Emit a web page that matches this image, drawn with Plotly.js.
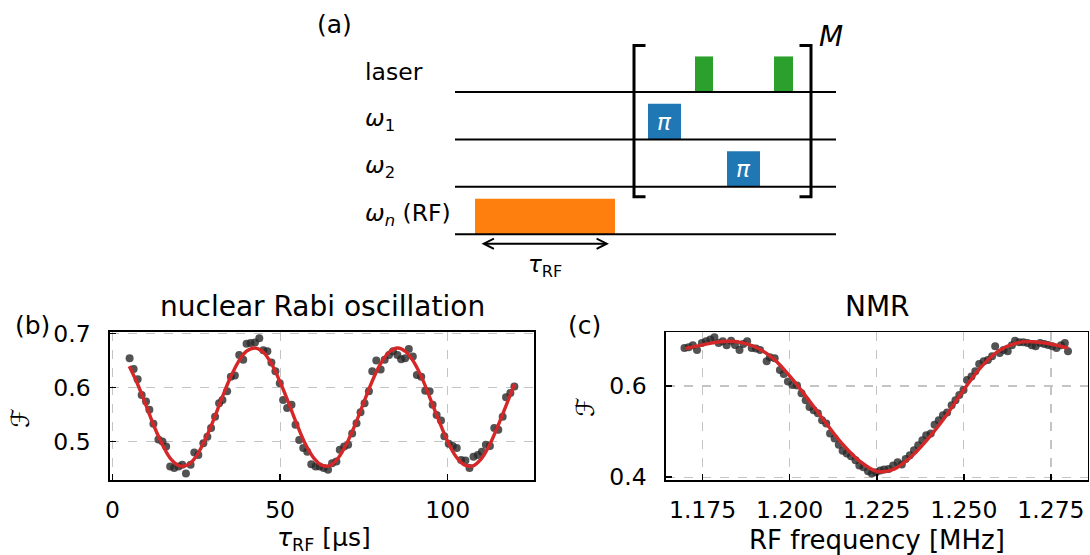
<!DOCTYPE html>
<html><head><meta charset="utf-8">
<script src="https://cdn.plot.ly/plotly-3.0.1.min.js"></script>
<style>html,body{margin:0;padding:0;background:#fff}#chart{width:1090px;height:555px}</style>
</head><body><div id="chart"></div>
<script>
// ---------- (b) nuclear Rabi oscillation ----------
const tauData = [5.1,6.3,7.5,8.7,10.0,11.0,12.2,13.7,14.9,16.0,17.2,18.4,19.7,20.8,21.9,23.3,24.4,25.6,27.1,28.3,
 29.4,30.6,31.8,32.8,34.2,35.3,36.5,37.8,39.0,40.0,41.2,42.5,43.8,45.0,46.2,47.4,48.6,49.9,50.9,52.1,
 53.4,54.6,55.7,56.9,58.1,59.3,60.6,61.8,63.0,64.3,65.5,66.8,67.8,69.1,70.3,71.5,72.8,74.0,75.2,76.5,
 77.5,78.7,80.0,81.2,82.5,83.7,85.0,86.1,87.3,88.4,89.6,90.8,92.1,93.3,94.6,95.5,96.7,98.0,99.0,100.3,
 101.5,102.7,104.0,105.3,106.5,107.7,109.0,110.2,111.4,112.6,113.9,115.1,116.4,117.4,118.7,119.9];
const fidRabi = [0.654,0.634,0.615,0.586,0.574,0.559,0.533,0.504,0.500,0.491,0.454,0.451,0.454,0.457,0.441,0.457,0.480,0.475,0.497,0.509,
 0.525,0.546,0.571,0.577,0.593,0.620,0.622,0.660,0.651,0.681,0.682,0.683,0.691,0.669,0.667,0.646,0.630,0.608,0.577,0.562,
 0.568,0.531,0.503,0.488,0.481,0.458,0.454,0.454,0.451,0.448,0.460,0.463,0.485,0.491,0.494,0.515,0.534,0.554,0.571,0.593,
 0.630,0.650,0.633,0.651,0.660,0.667,0.660,0.652,0.654,0.671,0.657,0.623,0.620,0.594,0.593,0.568,0.549,0.539,0.510,0.496,
 0.492,0.488,0.466,0.465,0.451,0.472,0.475,0.481,0.494,0.492,0.525,0.522,0.546,0.582,0.590,0.602];
const tauFit = [5,7.5,10,12.5,15,17.5,20,22.5,25,27.5,30,32.5,35,37.5,40,42.5,45,47.5,50,52.5,55,57.5,60,62.5,
 65,67.5,70,72.5,75,77.5,80,82.5,85,87.5,90,92.5,95,97.5,100,102.5,105,107.5,110,112.5,115,117.5,120];
const fitRabi = [0.639,0.606,0.567,0.527,0.493,0.467,0.455,0.457,0.473,0.502,0.538,0.578,0.616,0.647,0.667,0.673,
 0.665,0.643,0.610,0.572,0.532,0.496,0.470,0.456,0.456,0.471,0.498,0.533,0.573,0.612,0.644,0.665,0.673,0.666,
 0.646,0.615,0.576,0.537,0.500,0.472,0.457,0.455,0.468,0.494,0.529,0.568,0.607];
const rabiTicks = [0,50,100];
const rabiYTicks = [0.5,0.6,0.7];

// ---------- (c) NMR ----------
const freqData = [1.1698,1.1710,1.1722,1.1734,1.1748,1.1760,1.1772,1.1784,1.1796,1.1808,1.1819,1.1832,1.1843,1.1856,1.1867,1.1878,
 1.1891,1.1903,1.1915,1.1934,1.1943,1.1957,1.1972,1.1983,1.1995,1.2008,1.2021,1.2034,1.2046,1.2057,1.2069,1.2081,
 1.2093,1.2105,1.2116,1.2129,1.2141,1.2152,1.2164,1.2176,1.2189,1.2200,1.2212,1.2225,1.2236,1.2248,1.2260,1.2271,
 1.2284,1.2297,1.2310,1.2322,1.2333,1.2345,1.2357,1.2369,1.2381,1.2392,1.2405,1.2416,1.2428,1.2440,1.2452,1.2465,
 1.2476,1.2487,1.2499,1.2509,1.2522,1.2533,1.2544,1.2557,1.2569,1.2581,1.2590,1.2603,1.2614,1.2626,1.2638,1.2647,
 1.2659,1.2671,1.2683,1.2695,1.2706,1.2719,1.2731,1.2742,1.2754,1.2766,1.2779,1.2790,1.2799];
const fidNmr = [0.683,0.685,0.689,0.679,0.694,0.698,0.702,0.707,0.694,0.698,0.689,0.699,0.690,0.679,0.692,0.698,
 0.683,0.682,0.679,0.654,0.663,0.661,0.635,0.626,0.610,0.602,0.601,0.584,0.569,0.554,0.547,0.540,
 0.525,0.518,0.496,0.485,0.471,0.458,0.452,0.446,0.437,0.426,0.422,0.413,0.408,0.411,0.415,0.417,
 0.418,0.426,0.433,0.428,0.440,0.448,0.459,0.470,0.481,0.492,0.496,0.515,0.525,0.536,0.542,0.558,
 0.569,0.580,0.591,0.613,0.621,0.632,0.648,0.654,0.657,0.665,0.687,0.672,0.679,0.676,0.689,0.699,
 0.696,0.696,0.694,0.689,0.687,0.694,0.692,0.690,0.687,0.683,0.689,0.694,0.676];
const freqFit = [1.170,1.175,1.180,1.185,1.190,1.195,1.200,1.205,1.210,1.215,1.220,1.225,1.230,1.235,1.240,1.245,
 1.250,1.255,1.260,1.265,1.270,1.275,1.280];
const fitNmr = [0.682,0.690,0.697,0.697,0.686,0.662,0.622,0.574,0.523,0.474,0.436,0.413,0.418,0.446,0.487,0.536,
 0.592,0.642,0.677,0.694,0.697,0.692,0.683];
const nmrTicks = [1.175,1.200,1.225,1.250,1.275];
const nmrTickText = ['1.175','1.200','1.225','1.250','1.275'];
const nmrYTicks = [0.4,0.6];

// ---------- (a) pulse sequence ----------
const channelLabels = ['laser','<i>ω</i><sub>1</sub>','<i>ω</i><sub>2</sub>','<i>ω</i><sub><i>n</i></sub> (RF)'];
const channelRows = [0,1,2,3];
const sequenceLength = 38.1;
const pulseChannel = [3,1,0,2,0];
const pulseStart = [2.0,19.3,24.0,27.2,31.9];
const pulseEnd = [16.0,22.6,25.8,30.5,33.8];
const pulseKind = ['rf','mw','laser','mw','laser'];
const pulseText = ['','<i>π</i>','','<i>π</i>',''];
const blockStart = 17.9, blockEnd = 35.6;   // repeated block [ ... ]^M
const rfArrow = [2.5, 15.4];

// ---------- styles ----------
const FONT = 'DejaVu Sans, Liberation Sans, sans-serif';
const kindColor = {rf:'#ff7f0e', mw:'#1f77b4', laser:'#2ca02c'};
const pulseHeight = 0.75;
const W = 1090, H = 555;
const px = v => v / W, py = v => 1 - v / H;

const traces = [
  {x: tauData, y: fidRabi, type:'scatter', mode:'markers', xaxis:'x', yaxis:'y',
   marker:{size:8, color:'rgba(40,40,40,0.8)'}, hoverinfo:'skip'},
  {x: tauFit, y: fitRabi, type:'scatter', mode:'lines', xaxis:'x', yaxis:'y',
   line:{color:'#d62728', width:3.4, shape:'spline'}, hoverinfo:'skip'},
  {x: freqData, y: fidNmr, type:'scatter', mode:'markers', xaxis:'x2', yaxis:'y2',
   marker:{size:8, color:'rgba(40,40,40,0.8)'}, hoverinfo:'skip'},
  {x: freqFit, y: fitNmr, type:'scatter', mode:'lines', xaxis:'x2', yaxis:'y2',
   line:{color:'#d62728', width:3.4, shape:'spline'}, hoverinfo:'skip'}
];

const shapes = [];
const annotations = [];
// channel base lines
channelRows.forEach(r => shapes.push({type:'line', xref:'x3', yref:'y3', x0:0, x1:sequenceLength, y0:r, y1:r,
  line:{color:'black', width:2}}));
// pulses
pulseStart.forEach((t0,i) => {
  const r = pulseChannel[i];
  shapes.push({type:'rect', xref:'x3', yref:'y3', x0:t0, x1:pulseEnd[i], y0:r - pulseHeight, y1:r,
    fillcolor:kindColor[pulseKind[i]], line:{width:0}, layer:'below'});
  if (pulseText[i]) annotations.push({xref:'x3', yref:'y3', x:(t0+pulseEnd[i])/2, y:r - pulseHeight/2,
    text:pulseText[i], showarrow:false, xanchor:'center', yanchor:'middle',
    font:{family:FONT, size:23, color:'white'}});
});
// bracket
const bTop = -0.98, bBot = 2.21, serif = 1.15;
[[blockStart, 1],[blockEnd, -1]].forEach(([t,dir]) => {
  shapes.push({type:'path', xref:'x3', yref:'y3',
    path:`M${t+dir*serif},${bTop} L${t},${bTop} L${t},${bBot} L${t+dir*serif},${bBot}`,
    line:{color:'black', width:3}});
});
annotations.push({xref:'x3', yref:'y3', x:blockEnd+0.6, y:bTop-0.2, text:'<i>M</i>', showarrow:false,
  xanchor:'left', yanchor:'middle', font:{family:FONT, size:28, color:'black'}});
// channel labels
channelLabels.forEach((lab,i) => annotations.push({xref:'x3', yref:'y3', x:-9.2, y:channelRows[i]-0.42,
  text:lab, showarrow:false, xanchor:'left', yanchor:'middle', font:{family:FONT, size:23.5, color:'black'}}));
// tau_RF arrow
annotations.push({xref:'x3', yref:'y3', axref:'x3', ayref:'y3', x:rfArrow[1], y:3.2, ax:rfArrow[0], ay:3.2,
  text:'', showarrow:true, arrowside:'end+start', arrowhead:5, startarrowhead:5, arrowsize:1, startarrowsize:1,
  arrowwidth:2, arrowcolor:'black'});
annotations.push({xref:'x3', yref:'y3', x:(rfArrow[0]+rfArrow[1])/2, y:3.68, text:'<i>τ</i><sub>RF</sub>',
  showarrow:false, xanchor:'center', yanchor:'middle', font:{family:FONT, size:23, color:'black'}});

// panel labels, titles, axis titles
const paperText = (x,y,text,size,opts={}) => annotations.push(Object.assign({xref:'paper', yref:'paper',
  x:px(x), y:py(y), text, showarrow:false, xanchor:'center', yanchor:'middle',
  font:{family:FONT, size, color:'black'}}, opts));
paperText(334, 24, '(a)', 25);
paperText(32, 325, '(b)', 25);
paperText(584, 325, '(c)', 25);
paperText(322, 306, 'nuclear Rabi oscillation', 28);
paperText(877, 306, 'NMR', 28);
paperText(324, 539, '<i>τ</i><sub>RF</sub> [μs]', 25);
paperText(877, 540, 'RF frequency [MHz]', 26);
paperText(20, 418, 'ℱ', 25, {textangle:-90});
paperText(586, 407, 'ℱ', 25, {textangle:-90});

const axBase = {showline:true, mirror:true, linecolor:'black', linewidth:1.6, ticks:'inside', ticklen:6,
  tickwidth:1.6, tickcolor:'black', showgrid:true, gridcolor:'#c4c4c4', griddash:'dash', gridwidth:1.2,
  zeroline:false, tickfont:{family:FONT, size:23.5, color:'black'}, fixedrange:true};

const layout = {
  width:W, height:H, margin:{l:0, r:0, t:0, b:0}, paper_bgcolor:'white', plot_bgcolor:'rgba(0,0,0,0)',
  showlegend:false, font:{family:FONT},
  xaxis: Object.assign({}, axBase, {domain:[px(110), px(534)], range:[-0.75,125.75], tickvals:rabiTicks,
    anchor:'y', ticklabelstandoff:8}),
  yaxis: Object.assign({}, axBase, {domain:[py(480), py(332)], range:[0.429,0.7025], tickvals:rabiYTicks,
    tickformat:'.1f', anchor:'x', ticklabelstandoff:13}),
  xaxis2: Object.assign({}, axBase, {domain:[px(666), px(1087.5)], range:[1.1645,1.2855], tickvals:nmrTicks,
    ticktext:nmrTickText, anchor:'y2', ticklabelstandoff:8}),
  yaxis2: Object.assign({}, axBase, {domain:[py(480), py(332.3)], range:[0.394,0.7176], tickvals:nmrYTicks,
    tickformat:'.1f', anchor:'x2', ticklabelstandoff:13}),
  xaxis3: {domain:[0,1], range:[-45.5,63.5], visible:false, fixedrange:true, anchor:'y3'},
  yaxis3: {domain:[0,1], range:[9.768,-1.941], visible:false, fixedrange:true, anchor:'x3'},
  shapes, annotations
};

Plotly.newPlot('chart', traces, layout, {staticPlot:true, displayModeBar:false});
</script></body></html>
